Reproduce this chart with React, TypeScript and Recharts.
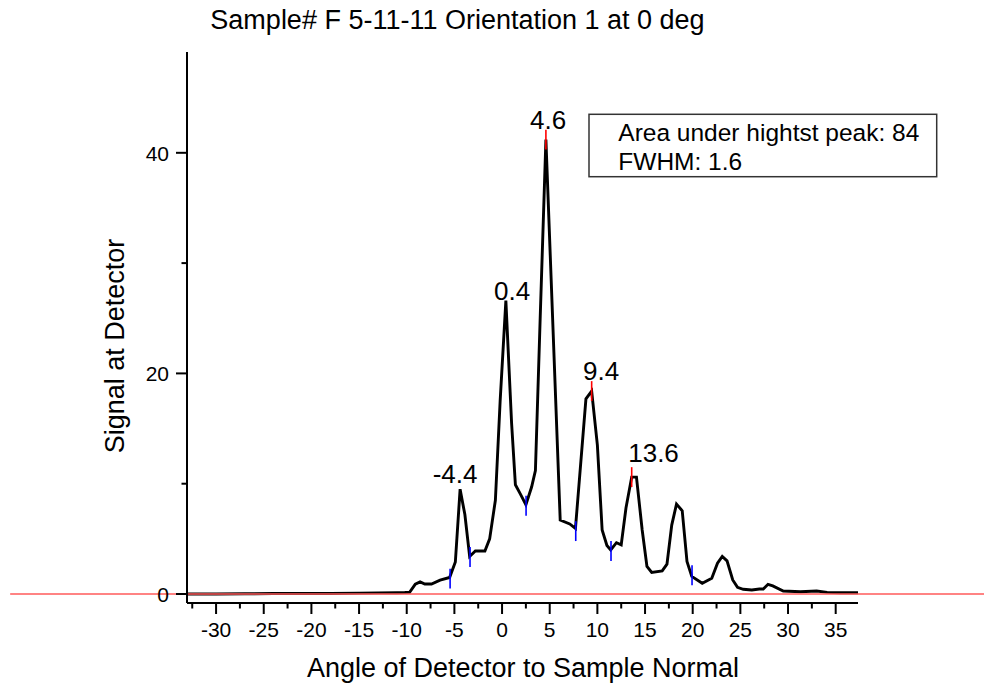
import React from 'react';
import { LineChart, Line, XAxis, YAxis, ReferenceLine, ReferenceDot } from 'recharts';

// angle of detector (deg) and detector signal
const angles = [
  -33.0, -30.0, -27.0, -24.0, -21.0, -18.0, -15.0, -13.0, -11.0, -10.2,
  -9.7, -9.1, -8.6, -8.1, -7.4, -6.5, -5.5, -4.9, -4.4, -3.9,
  -3.4, -2.8, -1.8, -1.3, -0.7, -0.2, 0.4, 1.0, 1.4, 1.9,
  2.5, 3.1, 3.5, 4.0, 4.6, 6.1, 7.1, 7.7, 8.8, 9.4,
  10.0, 10.5, 11.0, 11.4, 12.0, 12.5, 13.0, 13.6, 14.1, 14.7,
  15.2, 15.7, 16.8, 17.3, 17.8, 18.3, 18.9, 19.4, 19.9, 21.0,
  22.0, 22.6, 23.1, 23.6, 24.2, 24.7, 25.3, 26.2, 27.0, 27.4,
  27.9, 28.4, 29.5, 31.3, 33.0, 34.1, 35.5, 37.4,
];
const signal = [
  0.0, 0.0, 0.02, 0.04, 0.05, 0.05, 0.08, 0.1, 0.12, 0.13,
  0.15, 0.9, 1.1, 0.9, 0.9, 1.25, 1.5, 2.9, 9.5, 7.2,
  3.4, 3.9, 3.9, 5.0, 8.5, 17.5, 26.6, 15.5, 9.9, 9.1,
  8.1, 9.7, 11.2, 25.0, 41.2, 6.7, 6.35, 5.95, 17.7, 18.4,
  13.5, 5.8, 4.4, 4.0, 4.65, 4.45, 7.8, 10.6, 10.6, 5.8,
  2.5, 1.95, 2.1, 2.7, 6.25, 8.15, 7.55, 2.95, 1.6, 0.97,
  1.42, 2.8, 3.4, 3.0, 1.27, 0.6, 0.43, 0.36, 0.45, 0.45,
  0.88, 0.73, 0.27, 0.2, 0.27, 0.15, 0.12, 0.12,
];

const xTicks = [
  -32.5, -30, -27.5, -25, -22.5, -20, -17.5, -15, -12.5, -10, -7.5, -5, -2.5,
  0, 2.5, 5, 7.5, 10, 12.5, 15, 17.5, 20, 22.5, 25, 27.5, 30, 32.5, 35,
];
const yTicks = [0, 10, 20, 30, 40];

// peak annotations
const peakLabels = ['-4.4', '0.4', '4.6', '9.4', '13.6'];
const peakLabelX = [-4.93, 1.05, 4.83, 10.39, 15.89];
const peakLabelY = [10.04, 26.65, 42.15, 19.4, 11.99];

const peakTickX = [4.6, 9.4, 13.6];
const peakTickY = [41.2, 18.4, 10.6];
const valleyTickX = [-5.45, -3.36, 2.52, 7.73, 11.43, 19.93];
const valleyTickY = [1.4, 3.35, 8.0, 5.7, 3.9, 1.7];
const tickHalf = 0.9;

const legendLines = ['Area under hightst peak: 84', 'FWHM: 1.6'];

const font = '"Liberation Sans", Arial, Helvetica, sans-serif';

const data = angles.map((a, i) => ({ angle: a, signal: signal[i] }));

function XTick(props: any) {
  const { x, y, payload } = props;
  const major = payload.value % 5 === 0;
  return (
    <g>
      <line x1={x} y1={y} x2={x} y2={y + (major ? 11 : 5.5)} stroke="#000" strokeWidth={2} />
      {major && (
        <text x={x} y={y + 34} textAnchor="middle" fontSize={21} fontFamily={font} fill="#000">
          {payload.value}
        </text>
      )}
    </g>
  );
}

function YTick(props: any) {
  const { x, y, payload } = props;
  const major = payload.value % 20 === 0;
  return (
    <g>
      <line x1={x - (major ? 11 : 5.5)} y1={y} x2={x} y2={y} stroke="#000" strokeWidth={2} />
      {major && (
        <text x={x - 18} y={y + 8} textAnchor="end" fontSize={21} fontFamily={font} fill="#000">
          {payload.value}
        </text>
      )}
    </g>
  );
}

export default function App() {
  return (
    <div style={{ position: 'absolute', left: 0, top: 0, width: 984, height: 690, background: '#fff' }}>
      <LineChart width={984} height={690} data={data} margin={{ top: 52, right: 126, bottom: 0, left: 0 }}>
        <XAxis
          dataKey="angle"
          type="number"
          domain={[-33.05, 37.34]}
          allowDataOverflow
          ticks={xTicks}
          interval={0}
          tick={(p: any) => <XTick {...p} />}
          tickLine={false}
          tickSize={0}
          tickMargin={0}
          axisLine={{ stroke: '#000', strokeWidth: 2 }}
          height={87}
        />
        <YAxis
          type="number"
          domain={[-0.816, 49.14]}
          allowDataOverflow
          ticks={yTicks}
          interval={0}
          tick={(p: any) => <YTick {...p} />}
          tickLine={false}
          tickSize={0}
          tickMargin={0}
          axisLine={{ stroke: '#000', strokeWidth: 2 }}
          width={187}
        />
        <Line
          type="linear"
          dataKey="signal"
          stroke="#000"
          strokeWidth={2.9}
          dot={false}
          isAnimationActive={false}
        />
        <ReferenceLine
          segment={[{ x: -51.6, y: 0 }, { x: 50.6, y: 0 }]}
          stroke="#ff5a5a"
          strokeWidth={1.5}
          ifOverflow="visible"
        />
        {peakTickX.map((px, i) => (
          <ReferenceLine
            key={'p' + i}
            segment={[{ x: px, y: peakTickY[i] - tickHalf }, { x: px, y: peakTickY[i] + tickHalf }]}
            stroke="#ff0000"
            strokeWidth={1.6}
          />
        ))}
        {valleyTickX.map((vx, i) => (
          <ReferenceLine
            key={'v' + i}
            segment={[{ x: vx, y: valleyTickY[i] - tickHalf }, { x: vx, y: valleyTickY[i] + tickHalf }]}
            stroke="#0000ff"
            strokeWidth={1.6}
          />
        ))}
        {peakLabels.map((lab, i) => (
          <ReferenceDot
            key={'l' + i}
            x={peakLabelX[i]}
            y={peakLabelY[i]}
            r={0}
            shape={(p: any) => (
              <text x={p.cx} y={p.cy} textAnchor="middle" fontSize={26} fontFamily={font} fill="#000">
                {lab}
              </text>
            )}
          />
        ))}
        <text x={457.5} y={29} textAnchor="middle" fontSize={27} fontFamily={font} fill="#000">
          Sample# F 5-11-11 Orientation 1 at 0 deg
        </text>
        <text x={523} y={677} textAnchor="middle" fontSize={27} fontFamily={font} fill="#000">
          Angle of Detector to Sample Normal
        </text>
        <text
          x={124}
          y={346}
          textAnchor="middle"
          fontSize={27}
          fontFamily={font}
          fill="#000"
          transform="rotate(-90 124 346)"
        >
          Signal at Detector
        </text>
        <rect x={589} y={114.3} width={347.7} height={62.4} fill="#fff" stroke="#333" strokeWidth={1.5} />
        {legendLines.map((t, i) => (
          <text key={t} x={618.3} y={140.7 + i * 29.3} fontSize={24.5} fontFamily={font} fill="#000">
            {t}
          </text>
        ))}
      </LineChart>
    </div>
  );
}
